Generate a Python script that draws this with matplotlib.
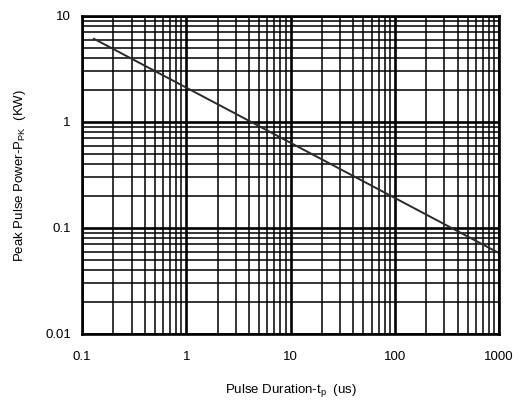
import numpy as np
import matplotlib.pyplot as plt

plt.rcParams['font.family'] = ['Liberation Sans', 'DejaVu Sans']

# curve end points
tp = [0.13, 1000]
ppk = [6.1, 0.058]

x_ticks = [0.1, 1, 10, 100, 1000]
x_labels = ['0.1', '1', '10', '100', '1000']
y_ticks = [0.01, 0.1, 1, 10]
y_labels = ['0.01', '0.1', '1', '10']

fig = plt.figure(figsize=(5.31, 4.05), dpi=100)
ax = fig.add_axes([82 / 531, 1 - 334 / 405, (499 - 82) / 531, (334 - 16) / 405])

ax.set_xscale('log')
ax.set_yscale('log')
ax.set_xlim(0.1, 1000)
ax.set_ylim(0.01, 10)

ax.grid(which='major', color='black', linewidth=1.9)
ax.grid(which='minor', color='black', linewidth=1.1)
ax.set_axisbelow(True)

ax.plot(tp, ppk, color='#2a2a2a', linewidth=1.4)

ax.set_xticks(x_ticks)
ax.set_xticklabels(x_labels)
ax.set_yticks(y_ticks)
ax.set_yticklabels(y_labels)
ax.tick_params(which='both', length=0, labelsize=9.5)
ax.tick_params(axis='x', pad=12)
ax.tick_params(axis='y', pad=8)

for s in ax.spines.values():
    s.set_linewidth(1.9)

ax.set_xlabel('Pulse Duration-t$_\\mathregular{p}$  (us)', fontsize=9.5, labelpad=14)
ax.set_ylabel('Peak Pulse Power-P$_\\mathregular{PK}$  (KW)', fontsize=9.5, labelpad=12)

fig.savefig('out.png', dpi=100)
